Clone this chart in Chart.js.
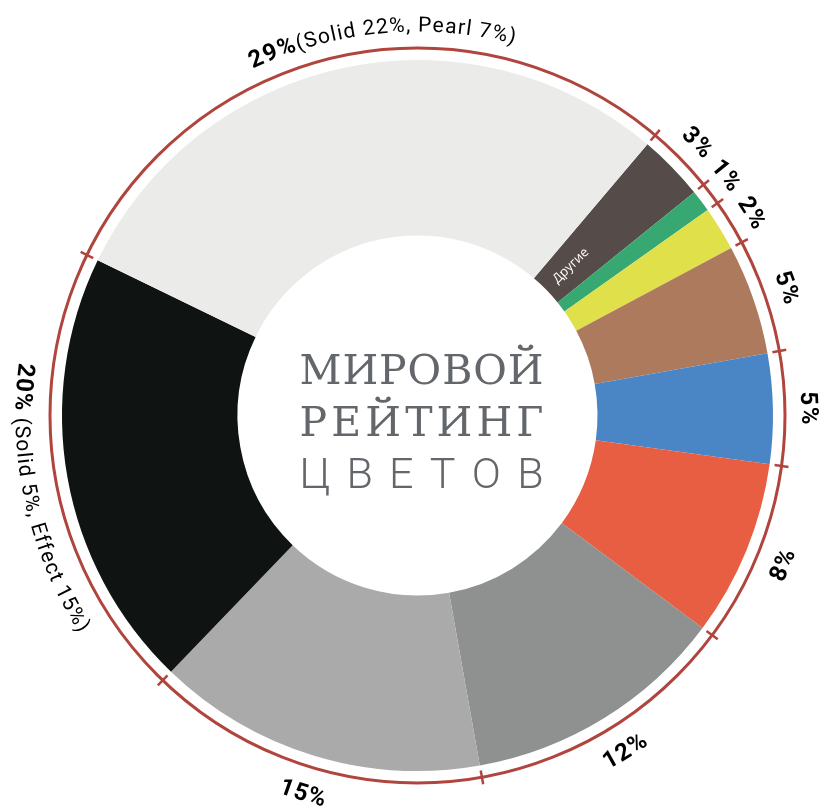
<!DOCTYPE html>
<html>
<head>
<meta charset="utf-8">
<script src="https://cdn.jsdelivr.net/npm/chart.js@4.4.1/dist/chart.umd.min.js"></script>
<style>
  html, body { margin: 0; padding: 0; background: #fff; }
  #wrap { width: 820px; height: 809px; position: relative; }
</style>
</head>
<body>
<div id="wrap"><canvas id="colorChart"></canvas></div>
<script>
// ====== ДАННЫЕ ======
const shares = [3, 1, 2, 5, 5, 8, 12, 15, 20, 29];
const sliceColors = ['#554b49', '#37a872', '#dfe04a', '#ad7a5e', '#4a86c5',
                     '#e85e43', '#8f9190', '#aaaaab', '#0f1312', '#ebebe9'];
const noteLabels = ['', '', '', '', '', '', '', '', ' (Solid 5%, Effect 15%)', '(Solid 22%, Pearl 7%)'];
const innerLabels = ['Другие', '', '', '', '', '', '', '', '', ''];
const titleLines = ['МИРОВОЙ', 'РЕЙТИНГ', 'ЦВЕТОВ'];
// ====================

const RING_COLOR = '#b0453d';
const TITLE_COLOR = '#63666a';
const BOLD_FONT = 'bold 24px Roboto, "DejaVu Sans", sans-serif';
const NOTE_FONT = '21px Roboto, "DejaVu Sans", sans-serif';
const TRACKING = 1.2;         // разрядка букв в подписях
const LABEL_R = 393;          // радиус середины подписей
// сдвиг подписей вдоль дуги, градусы
const labelNudge = { 1: -0.8, 2: 0.5, 9: 6.5, 8: -2.5 };

// рисуем текст по дуге; flip = буквы "головой" к центру
function drawArcText(ctx, parts, cx, cy, r, midAngle, flip) {
    let total = 0;
    const glyphs = [];
    parts.forEach(p => {
        ctx.font = p.font;
        for (const ch of p.text) {
            const w = ctx.measureText(ch).width + TRACKING;
            glyphs.push({ ch, w, font: p.font });
            total += w;
        }
    });
    const dir = flip ? -1 : 1;
    let acc = 0;
    const start = midAngle - dir * total / 2 / r;
    glyphs.forEach(g => {
        const a = start + dir * (acc + g.w / 2) / r;
        acc += g.w;
        ctx.save();
        ctx.translate(cx + r * Math.cos(a), cy + r * Math.sin(a));
        ctx.rotate(flip ? a - Math.PI / 2 : a + Math.PI / 2);
        ctx.font = g.font;
        ctx.textAlign = 'center';
        ctx.textBaseline = 'alphabetic';
        ctx.fillText(g.ch, 0, 0);
        ctx.restore();
    });
}

const ringPlugin = {
    id: 'ringLabels',
    afterDatasetsDraw(chart) {
        const ctx = chart.ctx;
        const arcs = chart.getDatasetMeta(0).data;
        const { x: cx, y: cy, outerRadius, innerRadius } = arcs[0];
        const R = outerRadius + 12;

        ctx.save();
        // красное кольцо
        ctx.strokeStyle = RING_COLOR;
        ctx.lineWidth = 3;
        ctx.beginPath();
        ctx.arc(cx, cy, R, 0, Math.PI * 2);
        ctx.stroke();
        // засечки на границах секторов
        ctx.lineWidth = 2.5;
        arcs.forEach(a => {
            const t = a.startAngle;
            ctx.beginPath();
            ctx.moveTo(cx + (R - 7) * Math.cos(t), cy + (R - 7) * Math.sin(t));
            ctx.lineTo(cx + (R + 7) * Math.cos(t), cy + (R + 7) * Math.sin(t));
            ctx.stroke();
        });

        // подписи процентов
        ctx.fillStyle = '#000';
        arcs.forEach((a, i) => {
            const mid = (a.startAngle + a.endAngle) / 2 + (labelNudge[i] || 0) * Math.PI / 180;
            const norm = ((mid % (2 * Math.PI)) + 2 * Math.PI) % (2 * Math.PI);
            // нижняя половина круга — буквы к центру
            const isFlip = norm > 0.05 && norm < Math.PI + 0.4;
            const capHalf = 9;
            const r = isFlip ? LABEL_R + capHalf : LABEL_R - capHalf;
            const parts = [{ text: shares[i] + '%', font: BOLD_FONT }];
            if (noteLabels[i]) parts.push({ text: noteLabels[i], font: NOTE_FONT });
            drawArcText(ctx, parts, cx, cy, r, mid, isFlip);
        });

        // внутренняя подпись "Другие"
        arcs.forEach((a, i) => {
            if (!innerLabels[i]) return;
            const mid = (a.startAngle + a.endAngle) / 2;
            ctx.save();
            ctx.translate(cx, cy);
            ctx.rotate(mid);
            ctx.font = '13px "Open Sans", "DejaVu Sans", sans-serif';
            ctx.fillStyle = '#ffffff';
            ctx.textAlign = 'left';
            ctx.textBaseline = 'middle';
            ctx.fillText(innerLabels[i], innerRadius + 12, 0);
            ctx.restore();
        });

        // заголовок в центре, буквы растянуты по ширине
        const lineFonts = ['41px "DejaVu Serif", serif', '41px "DejaVu Serif", serif',
                           '300 43px Roboto, "DejaVu Sans", sans-serif'];
        const baselines = [384, 436, 488];
        const left = cx - 118, right = cx + 126;
        ctx.fillStyle = TITLE_COLOR;
        ctx.textAlign = 'left';
        ctx.textBaseline = 'alphabetic';
        titleLines.forEach((line, k) => {
            ctx.font = lineFonts[k];
            const chars = [...line];
            const widths = chars.map(c => ctx.measureText(c).width);
            const sum = widths.reduce((s, w) => s + w, 0);
            const gap = (right - left - sum) / (chars.length - 1);
            let x = left;
            chars.forEach((c, j) => {
                ctx.fillText(c, x, baselines[k]);
                x += widths[j] + gap;
            });
        });
        ctx.restore();
    }
};

const ctx = document.getElementById('colorChart').getContext('2d');
new Chart(ctx, {
    type: 'doughnut',
    data: {
        labels: shares.map(v => v + '%'),
        datasets: [{
            data: shares,
            backgroundColor: sliceColors,
            borderWidth: 0,
            hoverBorderWidth: 0,
            hoverOffset: 0,
            offset: 0
        }]
    },
    options: {
        responsive: true,
        maintainAspectRatio: false,
        animation: false,
        events: [],
        rotation: 40.3,
        radius: 355.5,
        cutout: 180,
        layout: { padding: { left: 62, top: 60, right: 47, bottom: 38 } },
        plugins: {
            legend: { display: false },
            tooltip: { enabled: false }
        }
    },
    plugins: [ringPlugin]
});
</script>
</body>
</html>
